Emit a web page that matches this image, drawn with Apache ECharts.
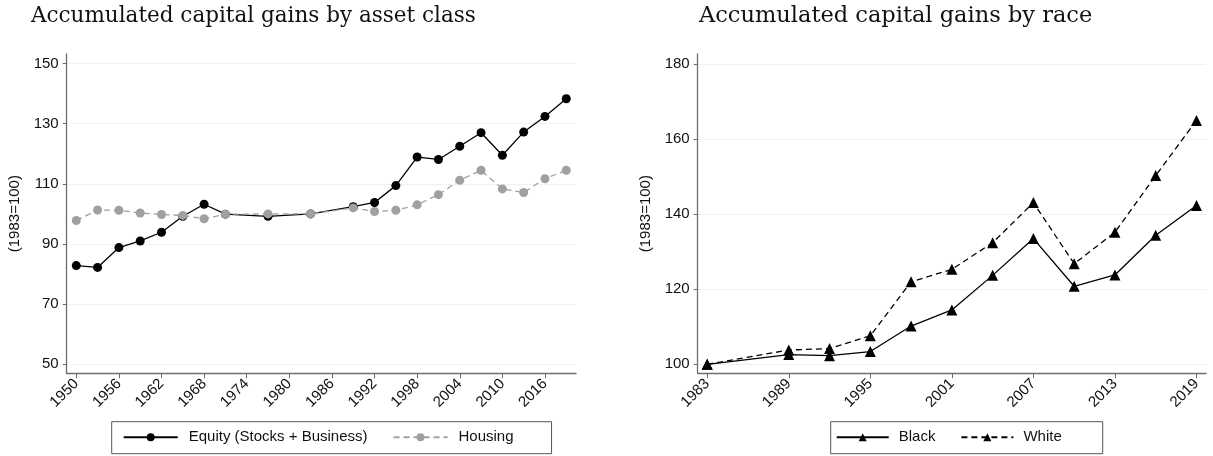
<!DOCTYPE html>
<html>
<head>
<meta charset="utf-8">
<script src="https://cdn.jsdelivr.net/npm/echarts@6/dist/echarts.min.js"></script>
<style>
html,body{margin:0;padding:0;background:#fff;}
#c{width:1213px;height:456px;}
</style>
</head>
<body>
<div id="c"></div>
<script>
// ---- Left panel data ----
const assetYears = [1950,1953,1956,1959,1962,1965,1968,1971,1977,1983,1989,1992,1995,1998,2001,2004,2007,2010,2013,2016,2019];
const equity = [82.8,82.2,88.8,91.0,93.9,99.2,103.2,99.9,99.2,100,102.4,103.8,109.4,118.9,118.1,122.5,127.0,119.5,127.2,132.4,138.3];
const housing = [97.8,101.3,101.2,100.3,99.8,99.5,98.4,99.9,100.0,100,102.0,100.8,101.2,103.0,106.4,111.2,114.5,108.3,107.1,111.7,114.5];
const assetXTicks = [1950,1956,1962,1968,1974,1980,1986,1992,1998,2004,2010,2016];
const assetYTicks = [50,70,90,110,130,150];

// ---- Right panel data ----
const raceYears = [1983,1989,1992,1995,1998,2001,2004,2007,2010,2013,2016,2019];
const black = [100,102.6,102.3,103.4,110.2,114.5,123.7,133.5,120.8,123.8,134.4,142.3];
const white = [100,103.8,104.2,107.6,122.0,125.3,132.4,143.1,126.8,135.2,150.3,165.0];
const raceXTicks = [1983,1989,1995,2001,2007,2013,2019];
const raceYTicks = [100,120,140,160,180];

const titles = ["Accumulated capital gains by asset class", "Accumulated capital gains by race"];
const yTitle = "(1983=100)";

const pair = (xs, ys) => xs.map((x, i) => [x, ys[i]]);

const axisCol = '#6e6e6e';
const gridCol = '#eaf2f3';
const font = '"Liberation Sans", Arial, sans-serif';
const fs = 15;

function xAx(grid, min, max, ticks) {
  return {
    type: 'value', gridIndex: grid, min: min, max: max,
    axisLine: {show: true, onZero: false, lineStyle: {color: axisCol, width: 1.3}},
    axisTick: {show: true, length: 5, customValues: ticks, lineStyle: {color: axisCol}},
    axisLabel: {customValues: ticks, rotate: 45, margin: 8, fontSize: fs, color: '#111', fontFamily: font,
                formatter: v => String(Math.round(v))},
    splitLine: {show: false}
  };
}
function yAx(grid, min, max, ticks) {
  return {
    type: 'value', gridIndex: grid, min: min, max: max,
    name: yTitle, nameLocation: 'middle', nameGap: 44, nameRotate: 90,
    nameTextStyle: {fontSize: fs, color: '#111', fontFamily: font},
    axisLine: {show: true, onZero: false, lineStyle: {color: axisCol, width: 1.3}},
    axisTick: {show: true, length: 4, customValues: ticks, lineStyle: {color: axisCol}},
    axisLabel: {customValues: ticks, margin: 8, fontSize: fs, color: '#111', fontFamily: font},
    splitLine: {show: true, lineStyle: {color: gridCol, width: 1.2}}
  };
}

const chart = echarts.init(document.getElementById('c'), null, {renderer: 'canvas'});
chart.setOption({
  animation: false,
  backgroundColor: '#fff',
  title: [
    {text: titles[0], left: 26, top: 0, textStyle: {fontFamily: 'DejaVu Serif', fontWeight: 'normal', fontSize: 21.5, color: '#111'}},
    {text: titles[1], left: 694, top: 0, textStyle: {fontFamily: 'DejaVu Serif', fontWeight: 'normal', fontSize: 22.5, color: '#111'}}
  ],
  grid: [
    {left: 66.7, right: 637, top: 54, bottom: 82.7},
    {left: 697.7, right: 7, top: 54, bottom: 82.7}
  ],
  xAxis: [
    xAx(0, 1948.65, 2020.37, assetXTicks),
    xAx(1, 1982.3, 2019.7, raceXTicks)
  ],
  yAxis: [
    yAx(0, 47.0, 153.16, assetYTicks),
    yAx(1, 97.6, 182.7, raceYTicks)
  ],
  legend: [
    {
      data: ['Equity (Stocks + Business)', 'Housing'],
      left: 111.7, top: 421.7,
      orient: 'horizontal', itemWidth: 54, itemHeight: 10, itemGap: 25,
      padding: [8, 38, 9, 11],
      borderColor: '#555', borderWidth: 1,
      textStyle: {fontSize: fs, color: '#111', fontFamily: font, padding: [0, 0, 0, 6]}
    },
    {
      data: ['Black', 'White'],
      left: 830.7, top: 421.7,
      orient: 'horizontal', itemWidth: 52, itemHeight: 10, itemGap: 25,
      padding: [8, 41, 9, 5],
      borderColor: '#555', borderWidth: 1,
      textStyle: {fontSize: fs, color: '#111', fontFamily: font, padding: [0, 0, 0, 5]}
    }
  ],
  series: [
    {
      name: 'Equity (Stocks + Business)', type: 'line', xAxisIndex: 0, yAxisIndex: 0,
      data: pair(assetYears, equity), symbol: 'circle', symbolSize: 9,
      itemStyle: {color: '#000'}, lineStyle: {color: '#000', width: 1.3}, z: 3
    },
    {
      name: 'Housing', type: 'line', xAxisIndex: 0, yAxisIndex: 0,
      data: pair(assetYears, housing), symbol: 'circle', symbolSize: 9,
      itemStyle: {color: '#a0a0a0'}, lineStyle: {color: '#a0a0a0', width: 1.3, type: [6, 4]}, z: 4
    },
    {
      name: 'Black', type: 'line', xAxisIndex: 1, yAxisIndex: 1,
      data: pair(raceYears, black), symbol: 'triangle', symbolSize: 11,
      itemStyle: {color: '#000'}, lineStyle: {color: '#000', width: 1.3}
    },
    {
      name: 'White', type: 'line', xAxisIndex: 1, yAxisIndex: 1,
      data: pair(raceYears, white), symbol: 'triangle', symbolSize: 11,
      itemStyle: {color: '#000'}, lineStyle: {color: '#000', width: 1.3, type: [6, 4]}
    }
  ]
});
</script>
</body>
</html>
